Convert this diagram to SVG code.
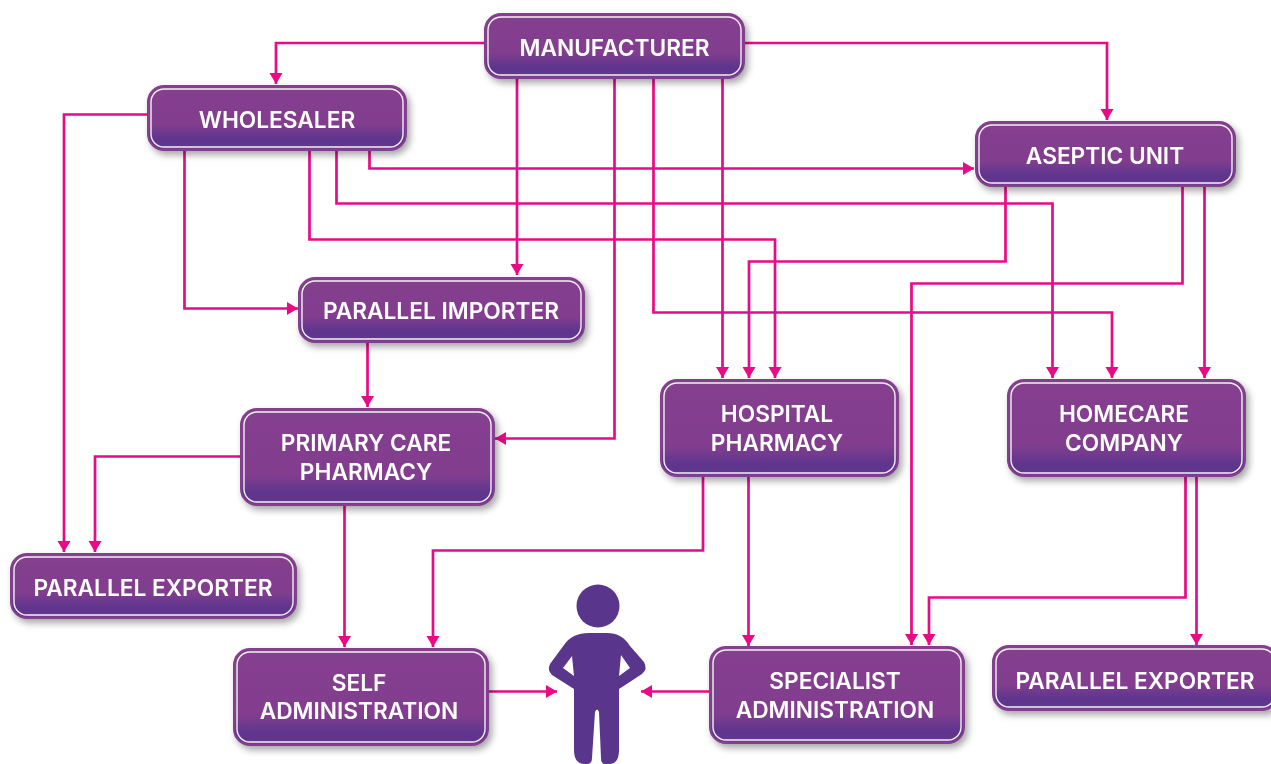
<svg xmlns="http://www.w3.org/2000/svg" width="1271" height="764" viewBox="0 0 1271 764">
<style>
.box{fill:url(#g);stroke:#833f8d;stroke-width:2}
.tall{fill:url(#h)}
.in{fill:none;stroke:#fff;stroke-width:1.4;stroke-opacity:.92}
.t{font-family:Inter,"Liberation Sans",sans-serif;font-weight:600;font-size:22.700px;fill:#fff;text-anchor:middle}
.c{fill:none;stroke:#e90a86;stroke-width:2.7;marker-end:url(#a)}
.n{filter:url(#s)}
</style>
<defs>
<linearGradient id="g" x1="0" y1="0" x2="0" y2="1"><stop offset="0" stop-color="#853f8e"/><stop offset=".6" stop-color="#823e8e"/><stop offset=".83" stop-color="#5e358e"/><stop offset=".91" stop-color="#5e358e"/><stop offset="1" stop-color="#7c3c8e"/></linearGradient>
<linearGradient id="h" x1="0" y1="0" x2="0" y2="1"><stop offset="0" stop-color="#853f8e"/><stop offset=".68" stop-color="#823e8e"/><stop offset=".88" stop-color="#5e358e"/><stop offset=".94" stop-color="#5e358e"/><stop offset="1" stop-color="#7c3c8e"/></linearGradient>
<filter id="s" x="-10%" y="-15%" width="125%" height="140%"><feDropShadow dx="3" dy="4" stdDeviation="3.5" flood-color="#000" flood-opacity=".35"/></filter>
<marker id="a" markerUnits="userSpaceOnUse" markerWidth="12" markerHeight="14" refX="11" refY="7" orient="auto"><path d="M0 0.500L11 7L0 13.500Z" fill="#e90a86"/></marker>
</defs>
<rect width="1271" height="764" fill="#fff"/>
<g id="connectors">
<path class="c" d="M485 43H276V84"/>
<path class="c" d="M745 43H1107V120"/>
<path class="c" d="M517 79V275"/>
<path class="c" d="M614.500 79V438.500H495"/>
<path class="c" d="M653.500 79V312.500H1112V378"/>
<path class="c" d="M722.500 79V378"/>
<path class="c" d="M148 114.500H64V552"/>
<path class="c" d="M184.500 151V308.500H298"/>
<path class="c" d="M309.500 151V239.500H775V378"/>
<path class="c" d="M336.500 151V203.500H1052.500V378"/>
<path class="c" d="M369.500 151V168.500H974"/>
<path class="c" d="M1005.500 187V261.500H749V378"/>
<path class="c" d="M1182.500 187V283.500H911.500V645"/>
<path class="c" d="M1204.500 187V378"/>
<path class="c" d="M367.500 343V407"/>
<path class="c" d="M241 456.500H95V552"/>
<path class="c" d="M344.500 506V647"/>
<path class="c" d="M703 477V550.500H433V647"/>
<path class="c" d="M748.500 477V646"/>
<path class="c" d="M1185.500 477V597.500H929V645"/>
<path class="c" d="M1196.500 477V645"/>
<path class="c" d="M489 691.500H557"/>
<path class="c" d="M710 691.500H641"/>
</g>
<g id="manufacturer" class="n"><rect class="box" x="485" y="14" width="259" height="64" rx="16"/><rect class="in" x="488" y="17" width="253" height="58" rx="13"/><text class="t" x="614.500" y="56">MANUFACTURER</text></g>
<g id="wholesaler" class="n"><rect class="box" x="148" y="86" width="258" height="64" rx="16"/><rect class="in" x="151" y="89" width="252" height="58" rx="13"/><text class="t" x="277" y="128">WHOLESALER</text></g>
<g id="aseptic-unit" class="n"><rect class="box" x="976" y="122" width="259" height="64" rx="16"/><rect class="in" x="979" y="125" width="253" height="58" rx="13"/><text class="t" x="1105" y="164">ASEPTIC UNIT</text></g>
<g id="parallel-importer" class="n"><rect class="box" x="299" y="278" width="285" height="64" rx="16"/><rect class="in" x="302" y="281" width="279" height="58" rx="13"/><text class="t" x="441" y="319">PARALLEL IMPORTER</text></g>
<g id="primary-care-pharmacy" class="n"><rect class="box tall" x="241" y="409" width="253" height="96" rx="16"/><rect class="in" x="244" y="412" width="247" height="90" rx="13"/><text class="t" x="366" y="451">PRIMARY CARE</text><text class="t" x="366" y="480">PHARMACY</text></g>
<g id="hospital-pharmacy" class="n"><rect class="box tall" x="661" y="380" width="237" height="96" rx="16"/><rect class="in" x="664" y="383" width="231" height="90" rx="13"/><text class="t" x="777" y="422">HOSPITAL</text><text class="t" x="777" y="451">PHARMACY</text></g>
<g id="homecare-company" class="n"><rect class="box tall" x="1008" y="380" width="237" height="96" rx="16"/><rect class="in" x="1011" y="383" width="231" height="90" rx="13"/><text class="t" x="1124" y="422">HOMECARE</text><text class="t" x="1124" y="451">COMPANY</text></g>
<g id="parallel-exporter-1" class="n"><rect class="box" x="11" y="554" width="285" height="64" rx="16"/><rect class="in" x="14" y="557" width="279" height="58" rx="13"/><text class="t" x="153" y="596">PARALLEL EXPORTER</text></g>
<g id="self-administration" class="n"><rect class="box tall" x="234" y="649" width="254" height="96" rx="16"/><rect class="in" x="237" y="652" width="248" height="90" rx="13"/><text class="t" x="359" y="691">SELF</text><text class="t" x="359" y="719">ADMINISTRATION</text></g>
<g id="specialist-administration" class="n"><rect class="box tall" x="710" y="647" width="254" height="96" rx="16"/><rect class="in" x="713" y="650" width="248" height="90" rx="13"/><text class="t" x="835" y="689">SPECIALIST</text><text class="t" x="835" y="718">ADMINISTRATION</text></g>
<g id="parallel-exporter-2" class="n"><rect class="box" x="993" y="646" width="285" height="64" rx="16"/><rect class="in" x="996" y="649" width="279" height="58" rx="13"/><text class="t" x="1135" y="689">PARALLEL EXPORTER</text></g>
<g id="patient" fill="#5a358c">
<circle cx="598" cy="606" r="21.500"/>
<path d="M589 633H607Q622 633 630 646L644 662Q648 669 642 674L619 689V750Q619 764 609 764H605Q601 764 601 758L599 712Q597 707 595 712L592 758Q592 764 587 764H585Q574 764 574 750V689L552 675Q547 670 550 664L564 645Q572 633 589 633ZM572 656L563 668L574 676ZM621 655L619 676L630 668Z" fill-rule="evenodd"/>
</g>
</svg>
